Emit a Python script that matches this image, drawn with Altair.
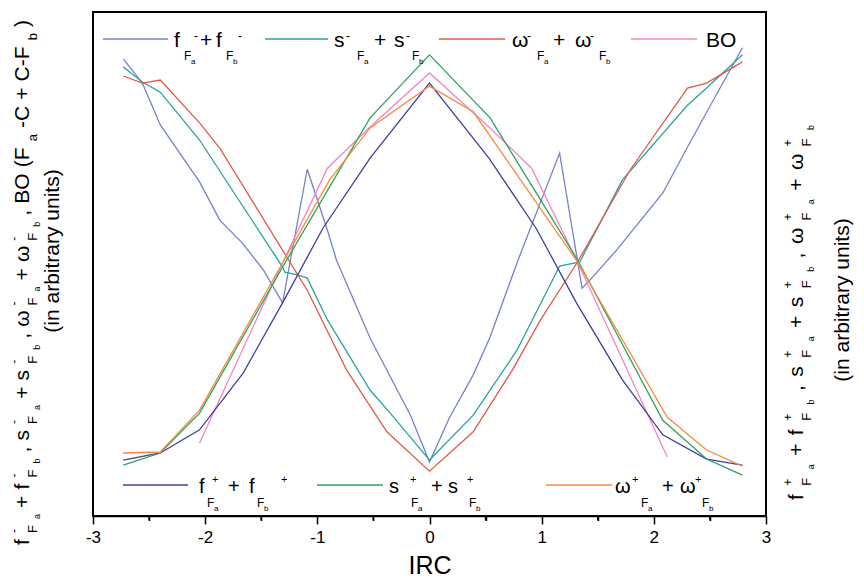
import altair as alt
import pandas as pd

FONT = "Liberation Sans"

# ---------------- data ----------------
SERIES = ["fm", "sm", "wm", "bo", "fp", "sp", "wp"]
COLORS = ["#7582c9", "#2aa39a", "#e05a48", "#f285c8", "#3f3f9f", "#2ca25f", "#f58a3c"]

fm_x = [-2.73, -2.56, -2.40, -2.05, -1.87, -1.67, -1.48, -1.31, -1.09, -0.91, -0.83, -0.53, -0.17, 0.0,
        0.18, 0.39, 0.54, 0.79, 1.16, 1.36, 1.43, 1.67, 2.08, 2.32, 2.53, 2.79]
fm_y = [90.7, 85.9, 77.6, 66.3, 58.7, 54.2, 48.8, 42.3, 68.8, 56.7, 50.8, 35.3, 20.0, 10.7,
        19.6, 28.0, 35.5, 50.8, 72.0, 45.2, 46.8, 52.8, 64.1, 74.0, 82.5, 92.9]

sm_x = [-2.73, -2.56, -2.40, -2.05, -1.31, -1.29, -1.17, -1.09, -0.91, -0.53, -0.35, 0.0,
        0.39, 0.78, 1.16, 1.34, 1.72, 2.30, 2.47, 2.79]
sm_y = [89.1, 86.1, 84.1, 74.6, 49.4, 48.4, 47.8, 47.2, 38.9, 25.0, 20.4, 11.1,
        20.0, 32.9, 49.6, 50.4, 66.7, 81.5, 84.9, 91.5]

wm_x = [-2.73, -2.56, -2.40, -2.05, -1.87, -1.09, -0.74, -0.38, 0.0, 0.39, 0.74, 0.99, 1.32, 1.79, 2.30, 2.47, 2.79]
wm_y = [87.3, 85.9, 86.5, 78.0, 73.0, 44.8, 29.0, 16.7, 8.9, 16.7, 29.0, 38.9, 50.4, 68.7, 84.9, 85.9, 90.1]

bo_x = [-2.05, -1.31, -0.91, -0.53, 0.0, 0.53, 0.91, 1.32, 2.12]
bo_y = [14.5, 50.2, 69.0, 77.2, 87.9, 77.2, 69.0, 50.4, 11.7]

fp_x = [-2.73, -2.40, -2.05, -1.66, -1.31, -0.95, -0.53, 0.0, 0.53, 0.95, 1.31, 1.72, 2.08, 2.47, 2.79]
fp_y = [11.1, 12.5, 17.1, 28.4, 42.3, 57.1, 71.0, 85.9, 71.0, 57.1, 42.3, 27.0, 16.1, 11.3, 10.1]

sp_x = [-2.73, -2.40, -2.05, -1.31, -0.53, 0.0, 0.54, 1.32, 2.08, 2.47, 2.79]
sp_y = [10.1, 12.5, 20.4, 49.4, 79.0, 91.5, 79.0, 50.8, 19.0, 11.3, 8.1]

wp_x = [-2.73, -2.40, -2.05, -1.31, -0.89, -0.53, 0.0, 0.39, 1.32, 2.12, 2.47, 2.79]
wp_y = [12.5, 12.7, 21.0, 50.2, 66.7, 77.0, 85.3, 80.2, 50.4, 19.6, 13.1, 9.9]

X_TICKS = [-3, -2, -1, 0, 1, 2, 3]
X_MINOR = [-2.5, -1.5, -0.5, 0.5, 1.5, 2.5]

# ---------------- layout constants ----------------
L, T, R, B = 93, 12, 766, 516
W, H = R - L, B - T

rows = []
for name, xs, ys in [("fm", fm_x, fm_y), ("sm", sm_x, sm_y), ("wm", wm_x, wm_y), ("bo", bo_x, bo_y),
                     ("fp", fp_x, fp_y), ("sp", sp_x, sp_y), ("wp", wp_x, wp_y)]:
    for i, (a, b) in enumerate(zip(xs, ys)):
        rows.append({"series": name, "x": a, "y": b, "i": i})
df = pd.DataFrame(rows)

xscale = alt.Scale(domain=[-3, 3], nice=False, zero=False)
yscale = alt.Scale(domain=[0, 100], nice=False, zero=False)
xaxis = alt.Axis(
    values=X_TICKS, title=None, labelExpr="'' + datum.value", tickSize=8, tickWidth=1.5,
    tickColor="black", domainColor="black", domainWidth=1.5, labelColor="black",
    labelFontSize=17, labelFont=FONT, labelPadding=5, grid=False,
    labelFlush=False, labelOverlap=False)

lines = alt.Chart(df).mark_line(strokeWidth=1.3).encode(
    x=alt.X("x:Q", scale=xscale, axis=xaxis),
    y=alt.Y("y:Q", scale=yscale, axis=None),
    color=alt.Color("series:N", scale=alt.Scale(domain=SERIES, range=COLORS), legend=None),
    order="i:Q",
)

minor = alt.Chart(pd.DataFrame({"xm": X_MINOR})).mark_rule(color="black", strokeWidth=1.5).encode(
    x=alt.X("xm:Q", scale=xscale, axis=alt.Axis(
        values=X_MINOR, title=None, labels=False, domain=False, grid=False,
        tickSize=4.5, tickWidth=1.5, tickColor="black", orient="bottom")),
    y=alt.value(H), y2=alt.value(H + 4.5),
)

# ---------------- text helpers ----------------
WID = {'f': .278, 's': .5, '+': .584, ' ': .278, 'F': .611, 'a': .556, 'b': .556, ',': .278,
       'ω': .72, 'B': .667, 'O': .778, '(': .333, ')': .333, 'C': .722, '-': .333}


def rot_rich(segs, x0, y0, span, sizes, offs):
    adv = []
    for t, k in segs:
        adv.append(0 if k == "sup" else sum(WID.get(c, .55) for c in t) * sizes[k])
    nb = sum(1 for t, k in segs if k != "sup") - 1
    gap = (span - sum(adv)) / nb
    out, pos = [], 0.0
    for (t, k), a in zip(segs, adv):
        out.append({"px": x0 + offs[k] - L, "py": y0 - pos - T, "t": t, "size": sizes[k]})
        if k != "sup":
            pos += a + gap
    return out


ROT_SZ = {"m": 21, "s": 13, "ss": 9, "sup": 12}
ROT_OFF = {"m": 0, "s": 8, "ss": 11, "sup": -11}

left_segs = [("f", "m"), ("-", "sup"), ("F", "s"), ("a", "ss"), ("+", "m"), ("f", "m"), ("-", "sup"), ("F", "s"),
             ("b", "ss"), (",", "m"), ("s", "m"), ("-", "sup"), ("F", "s"), ("a", "ss"), ("+", "m"), ("s", "m"),
             ("-", "sup"), ("F", "s"), ("b", "ss"), (",", "m"), ("ω", "m"), ("-", "sup"), ("F", "s"), ("a", "ss"),
             ("+", "m"), ("ω", "m"), ("-", "sup"), ("F", "s"), ("b", "ss"), (",", "m"), ("BO", "m"), ("(F", "m"),
             ("a", "s"), ("-C", "m"), ("+", "m"), ("C-F", "m"), ("b", "s"), (")", "m")]
right_segs = [("f", "m"), ("+", "sup"), ("F", "s"), ("a", "ss"), ("+", "m"), ("f", "m"), ("+", "sup"), ("F", "s"),
              ("b", "ss"), (",", "m"), ("s", "m"), ("+", "sup"), ("F", "s"), ("a", "ss"), ("+", "m"), ("s", "m"),
              ("+", "sup"), ("F", "s"), ("b", "ss"), (",", "m"), ("ω", "m"), ("+", "sup"), ("F", "s"), ("a", "ss"),
              ("+", "m"), ("ω", "m"), ("+", "sup"), ("F", "s"), ("b", "ss")]

rot_rows = rot_rich(left_segs, 29, 545, 525, ROT_SZ, ROT_OFF) + \
    rot_rich(right_segs, 803, 500, 375, ROT_SZ, ROT_OFF)
rot_df = pd.DataFrame(rot_rows)

rot_text = alt.Chart(rot_df).mark_text(font=FONT, angle=270, align="left", baseline="alphabetic",
                                       color="black").encode(
    x=alt.X("px:Q", scale=None), y=alt.Y("py:Q", scale=None),
    text="t:N", size=alt.Size("size:Q", scale=None, legend=None))

units_df = pd.DataFrame({"px": [59 - L, 849 - L], "py": [251 - T, 300 - T],
                         "t": ["(in arbitrary units)", "(in arbitrary units)"]})
units_text = alt.Chart(units_df).mark_text(font=FONT, angle=270, align="center", baseline="alphabetic",
                                           fontSize=21, color="black").encode(
    x=alt.X("px:Q", scale=None), y=alt.Y("py:Q", scale=None), text="t:N")

# legends (manual, with sub/superscripts)
TOP_Y = {"m": 47, "s": 60, "ss": 64, "sup": 40}
TOP_S = {"m": 21, "s": 12, "ss": 8, "sup": 12}
BOT_Y = {"m": 493, "s": 507, "ss": 511, "sup": 483}
BOT_S = {"m": 20, "s": 12, "ss": 8, "sup": 11}

top_pieces = [("f", 174, "m"), ("F", 184, "s"), ("a", 191, "ss"), ("-", 194, "sup"), ("+", 200, "m"),
              ("f", 216, "m"), ("F", 226, "s"), ("b", 233, "ss"), ("-", 238, "sup"),
              ("s", 334, "m"), ("-", 346, "sup"), ("F", 357, "s"), ("a", 364, "ss"), ("+", 374, "m"),
              ("s", 394, "m"), ("-", 406, "sup"), ("F", 412, "s"), ("b", 419, "ss"),
              ("ω", 512, "m"), ("-", 527, "sup"), ("F", 537, "s"), ("a", 544, "ss"), ("+", 553, "m"),
              ("ω", 575, "m"), ("-", 590, "sup"), ("F", 599, "s"), ("b", 606, "ss"),
              ("BO", 706, "m")]
bot_pieces = [("f", 199, "m"), ("F", 207, "s"), ("a", 214, "ss"), ("+", 212, "sup"), ("+", 228, "m"),
              ("f", 249, "m"), ("F", 257, "s"), ("b", 264, "ss"), ("+", 281, "sup"),
              ("s", 389, "m"), ("+", 410, "sup"), ("F", 411, "s"), ("a", 418, "ss"), ("+", 431, "m"),
              ("s", 448, "m"), ("+", 467, "sup"), ("F", 469, "s"), ("b", 476, "ss"),
              ("ω", 615, "m"), ("+", 632, "sup"), ("F", 641, "s"), ("a", 648, "ss"), ("+", 662, "m"),
              ("ω", 680, "m"), ("+", 695, "sup"), ("F", 702, "s"), ("b", 709, "ss")]

leg_rows = [{"px": x - L, "py": TOP_Y[k] - T, "t": t, "size": TOP_S[k]} for t, x, k in top_pieces] + \
           [{"px": x - L, "py": BOT_Y[k] - T, "t": t, "size": BOT_S[k]} for t, x, k in bot_pieces]
leg_df = pd.DataFrame(leg_rows)

leg_text = alt.Chart(leg_df).mark_text(font=FONT, align="left", baseline="alphabetic",
                                       color="black").encode(
    x=alt.X("px:Q", scale=None), y=alt.Y("py:Q", scale=None),
    text="t:N", size=alt.Size("size:Q", scale=None, legend=None))
irc_text = alt.Chart(pd.DataFrame({"t": ["IRC"]})).mark_text(
    font=FONT, align="center", baseline="alphabetic", fontSize=25, color="black").encode(
    x=alt.value(430 - L), y=alt.value(574 - T), text="t:N")

sw_df = pd.DataFrame({
    "series": ["fm", "sm", "wm", "bo", "fp", "sp", "wp"],
    "x1": [103, 265, 439, 631, 123, 317, 546],
    "x2": [168, 328, 505, 697, 188, 383, 612],
    "yy": [39, 39, 39, 39, 485, 485, 485],
})
sw_df["x1"] -= L
sw_df["x2"] -= L
sw_df["yy"] -= T
swatches = alt.Chart(sw_df).mark_rule(strokeWidth=1.3).encode(
    x=alt.X("x1:Q", scale=None), x2="x2:Q", y=alt.Y("yy:Q", scale=None),
    color=alt.Color("series:N", scale=alt.Scale(domain=SERIES, range=COLORS), legend=None))

chart = alt.layer(lines, minor, swatches, leg_text, irc_text, rot_text, units_text).resolve_axis(
    x="independent"
).properties(
    width=W, height=H,
    autosize=alt.AutoSizeParams(type="none"),
    padding={"left": L, "top": T, "right": 864 - R, "bottom": 579 - B},
    background="white",
).configure_view(stroke="black", strokeWidth=2)

chart.save("out.html", embed_options={"renderer": "svg", "actions": False})
